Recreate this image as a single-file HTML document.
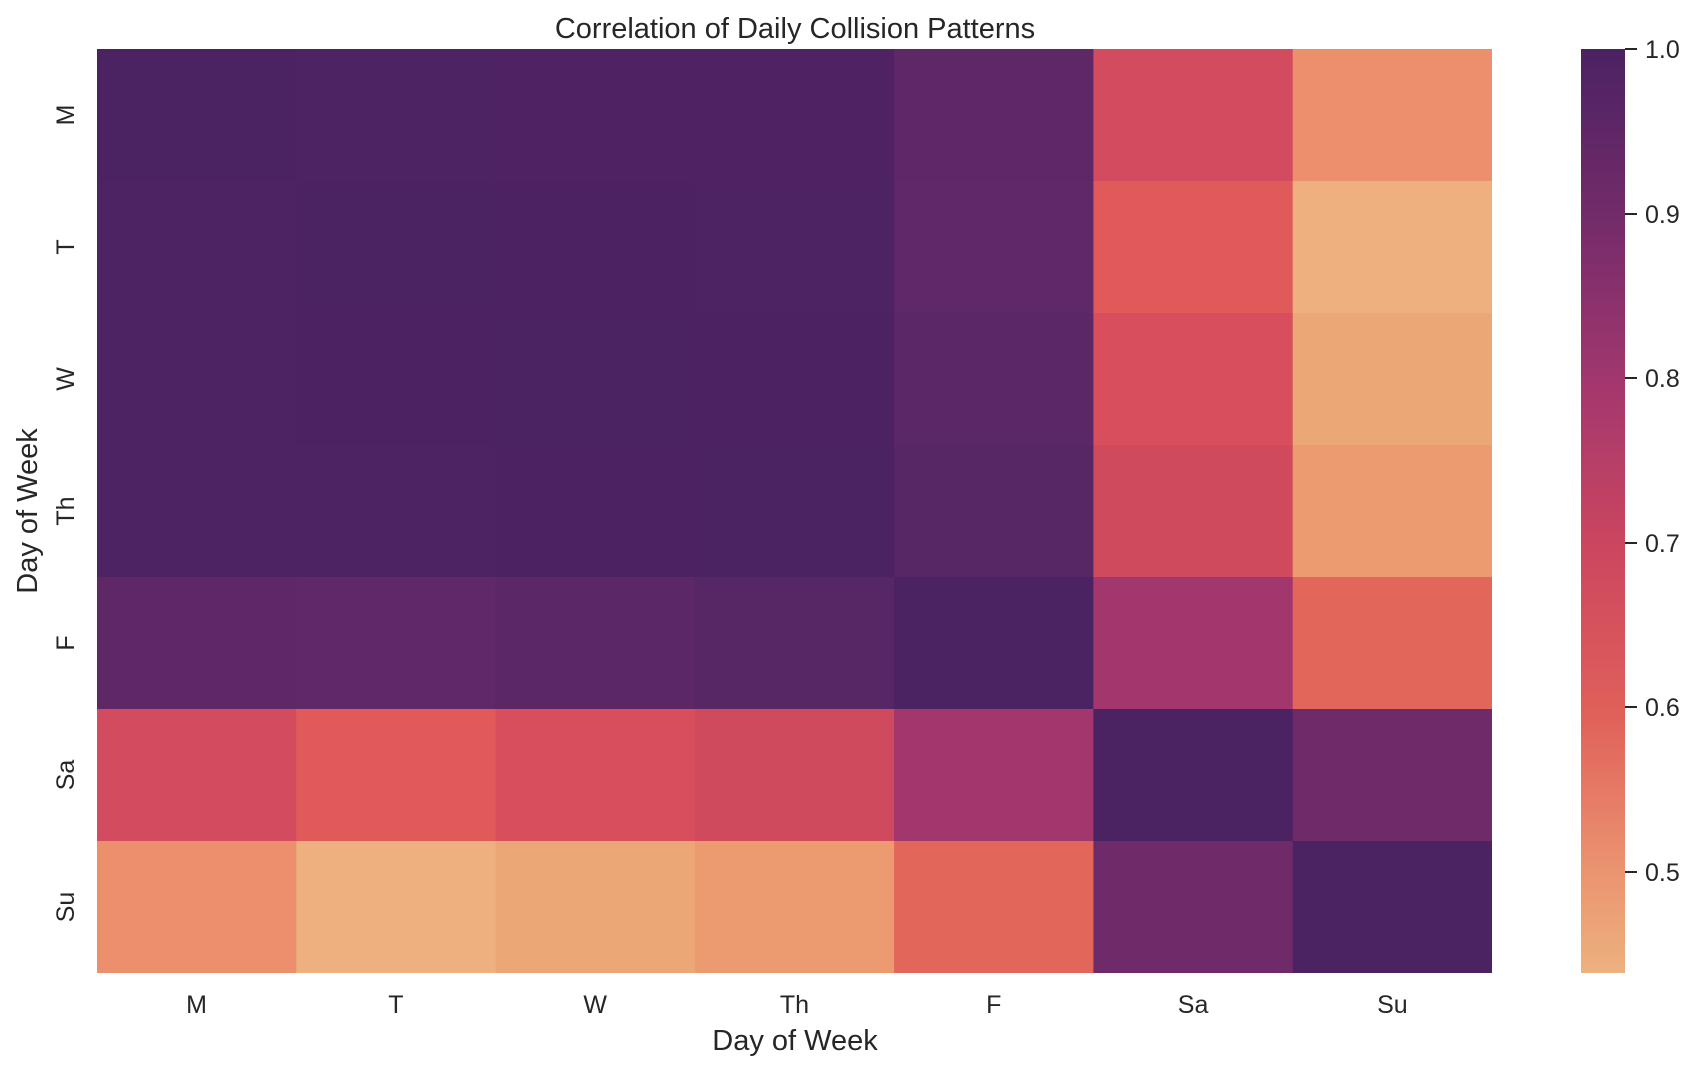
<!DOCTYPE html>
<html><head><meta charset="utf-8"><style>body{margin:0;background:#fff}</style></head><body>
<svg width="1698" height="1070" xmlns="http://www.w3.org/2000/svg" font-family="Liberation Sans, sans-serif" fill="#262626">
<defs><linearGradient id="cb" x1="0" y1="1" x2="0" y2="0">
<stop offset="0" stop-color="#edb17f"/><stop offset="0.11" stop-color="#eb9470"/><stop offset="0.28" stop-color="#e0605a"/><stop offset="0.46" stop-color="#cc465f"/><stop offset="0.64" stop-color="#a2376e"/><stop offset="0.82" stop-color="#732b6a"/><stop offset="1" stop-color="#4b2262"/></linearGradient></defs>
<text x="795" y="38" font-size="29" text-anchor="middle">Correlation of Daily Collision Patterns</text>
<g>
<rect x="97" y="49" width="200" height="133" fill="#4b2262"/><rect x="296.3" y="49" width="200" height="133" fill="#4e2363"/><rect x="495.6" y="49" width="200" height="133" fill="#4f2363"/><rect x="694.9" y="49" width="200" height="133" fill="#4f2363"/><rect x="894.1" y="49" width="200" height="133" fill="#5d2865"/><rect x="1093.4" y="49" width="200" height="133" fill="#d24b5e"/><rect x="1292.7" y="49" width="199.3" height="133" fill="#eb8f6c"/>
<rect x="97" y="181" width="200" height="133" fill="#4d2363"/><rect x="296.3" y="181" width="200" height="133" fill="#4b2262"/><rect x="495.6" y="181" width="200" height="133" fill="#4c2262"/><rect x="694.9" y="181" width="200" height="133" fill="#4e2363"/><rect x="894.1" y="181" width="200" height="133" fill="#5f2866"/><rect x="1093.4" y="181" width="200" height="133" fill="#e05a59"/><rect x="1292.7" y="181" width="199.3" height="133" fill="#eeb07f"/>
<rect x="97" y="313" width="200" height="133" fill="#4d2363"/><rect x="296.3" y="313" width="200" height="133" fill="#4c2262"/><rect x="495.6" y="313" width="200" height="133" fill="#4b2262"/><rect x="694.9" y="313" width="200" height="133" fill="#4c2262"/><rect x="894.1" y="313" width="200" height="133" fill="#5b2765"/><rect x="1093.4" y="313" width="200" height="133" fill="#d94e5c"/><rect x="1292.7" y="313" width="199.3" height="133" fill="#eca777"/>
<rect x="97" y="445" width="200" height="133" fill="#4d2363"/><rect x="296.3" y="445" width="200" height="133" fill="#4e2363"/><rect x="495.6" y="445" width="200" height="133" fill="#4c2262"/><rect x="694.9" y="445" width="200" height="133" fill="#4b2262"/><rect x="894.1" y="445" width="200" height="133" fill="#572664"/><rect x="1093.4" y="445" width="200" height="133" fill="#d04a5e"/><rect x="1292.7" y="445" width="199.3" height="133" fill="#ec9a70"/>
<rect x="97" y="577" width="200" height="133" fill="#5d2865"/><rect x="296.3" y="577" width="200" height="133" fill="#5f2866"/><rect x="495.6" y="577" width="200" height="133" fill="#5b2765"/><rect x="694.9" y="577" width="200" height="133" fill="#572664"/><rect x="894.1" y="577" width="200" height="133" fill="#4b2262"/><rect x="1093.4" y="577" width="200" height="133" fill="#a2376e"/><rect x="1292.7" y="577" width="199.3" height="133" fill="#e2665a"/>
<rect x="97" y="709" width="200" height="133" fill="#d24b5e"/><rect x="296.3" y="709" width="200" height="133" fill="#e05a59"/><rect x="495.6" y="709" width="200" height="133" fill="#d94e5c"/><rect x="694.9" y="709" width="200" height="133" fill="#d04a5e"/><rect x="894.1" y="709" width="200" height="133" fill="#a2376e"/><rect x="1093.4" y="709" width="200" height="133" fill="#4b2262"/><rect x="1292.7" y="709" width="199.3" height="133" fill="#6f2b69"/>
<rect x="97" y="841" width="200" height="132" fill="#eb8f6c"/><rect x="296.3" y="841" width="200" height="132" fill="#eeb07f"/><rect x="495.6" y="841" width="200" height="132" fill="#eca777"/><rect x="694.9" y="841" width="200" height="132" fill="#ec9a70"/><rect x="894.1" y="841" width="200" height="132" fill="#e2665a"/><rect x="1093.4" y="841" width="200" height="132" fill="#6f2b69"/><rect x="1292.7" y="841" width="199.3" height="132" fill="#4b2262"/>
</g>
<rect x="1581" y="49" width="44" height="924" fill="url(#cb)"/>
<g stroke="#262626" stroke-width="2">
<line x1="1625" y1="49" x2="1637" y2="49"/><line x1="1625" y1="214" x2="1637" y2="214"/><line x1="1625" y1="378" x2="1637" y2="378"/><line x1="1625" y1="543" x2="1637" y2="543"/><line x1="1625" y1="707" x2="1637" y2="707"/><line x1="1625" y1="872" x2="1637" y2="872"/></g>
<g font-size="25"><text x="1645" y="58">1.0</text><text x="1645" y="223">0.9</text><text x="1645" y="387">0.8</text><text x="1645" y="552">0.7</text><text x="1645" y="716">0.6</text><text x="1645" y="881">0.5</text></g>
<g font-size="25" text-anchor="middle">
<text x="196.6" y="1013">M</text><text x="395.9" y="1013">T</text><text x="595.2" y="1013">W</text><text x="794.5" y="1013">Th</text><text x="993.8" y="1013">F</text><text x="1193.1" y="1013">Sa</text><text x="1392.4" y="1013">Su</text>
</g>
<g font-size="25" text-anchor="middle">
<text transform="translate(74,115) rotate(-90)">M</text><text transform="translate(74,247) rotate(-90)">T</text><text transform="translate(74,379) rotate(-90)">W</text><text transform="translate(74,511) rotate(-90)">Th</text><text transform="translate(74,643) rotate(-90)">F</text><text transform="translate(74,775) rotate(-90)">Sa</text><text transform="translate(74,907) rotate(-90)">Su</text>
</g>
<text x="795" y="1050" font-size="29" text-anchor="middle">Day of Week</text>
<text transform="translate(37,511) rotate(-90)" font-size="29" text-anchor="middle">Day of Week</text>
</svg></body></html>
